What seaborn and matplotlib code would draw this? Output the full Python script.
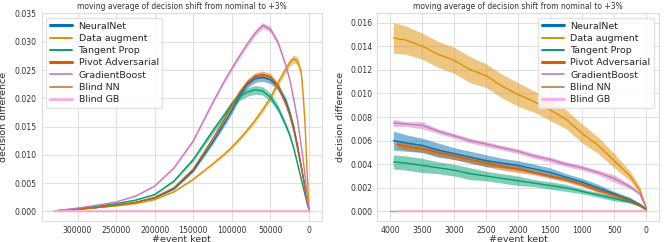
import numpy as np
import pandas as pd
import matplotlib
matplotlib.use("Agg")
import matplotlib.pyplot as plt
import seaborn as sns

# ---------------- data: left panel (full range) ----------------
left_x = [330000, 300000, 275000, 250000, 225000, 200000, 175000, 150000, 125000,
          110000, 100000, 90000, 80000, 70000, 60000, 50000, 40000, 30000, 25000,
          20000, 15000, 10000, 7500, 5000, 2500, 0]
left_nn = [0.0001, 0.0004, 0.0007, 0.0011, 0.0016, 0.0024, 0.0040, 0.0072, 0.0122,
           0.0155, 0.0178, 0.0205, 0.0225, 0.0235, 0.0237, 0.0233, 0.0220, 0.0195, 0.0175,
           0.0150, 0.0117, 0.0080, 0.0061, 0.0042, 0.0022, 0.0003]
left_da = [0.0001, 0.0004, 0.0007, 0.0010, 0.0014, 0.0021, 0.0035, 0.0057, 0.0084,
           0.0101, 0.0114, 0.0128, 0.0144, 0.0161, 0.0180, 0.0201, 0.0228, 0.0252, 0.0263,
           0.0270, 0.0266, 0.0245, 0.0205, 0.0152, 0.0072, 0.0003]
left_tp = [0.0001, 0.0005, 0.0009, 0.0014, 0.0020, 0.0030, 0.0054, 0.0092, 0.0142,
           0.0170, 0.0190, 0.0203, 0.0211, 0.0215, 0.0213, 0.0202, 0.0182, 0.0152, 0.0135,
           0.0113, 0.0085, 0.0057, 0.0043, 0.0029, 0.0015, 0.0003]
left_pa = [0.0001, 0.0004, 0.0007, 0.0011, 0.0016, 0.0025, 0.0042, 0.0075, 0.0128,
           0.0162, 0.0188, 0.0210, 0.0228, 0.0239, 0.0242, 0.0238, 0.0221, 0.0190, 0.0170,
           0.0145, 0.0112, 0.0077, 0.0059, 0.0040, 0.0021, 0.0003]
left_gb = [0.0001, 0.0006, 0.0011, 0.0017, 0.0027, 0.0045, 0.0077, 0.0125, 0.0192,
           0.0230, 0.0253, 0.0275, 0.0296, 0.0315, 0.0329, 0.0322, 0.0298, 0.0258, 0.0233,
           0.0200, 0.0163, 0.0115, 0.0091, 0.0062, 0.0028, 0.0004]
left_blind = [0.0, 0.0]
left_blind_x = [330000, 0]
# relative half-width of the uncertainty band, per series
left_band = [0.03, 0.025, 0.035, 0.025, 0.015]

# ---------------- data: right panel (last 4000 events) ----------------
right_x = [3950, 3750, 3500, 3250, 3000, 2750, 2500, 2250, 2000, 1750, 1500, 1250,
           1000, 750, 500, 250, 100, 0]
right_nn = [0.0060, 0.0058, 0.0056, 0.0052, 0.0049, 0.0046, 0.0043, 0.0041, 0.0039,
            0.0036, 0.0033, 0.0029, 0.0025, 0.0020, 0.0015, 0.0010, 0.0006, 0.0002]
right_nn_err = [0.0008, 0.0007, 0.0006, 0.0006, 0.0005, 0.0005, 0.0005, 0.0004, 0.0004,
                0.0004, 0.0004, 0.0003, 0.0003, 0.0003, 0.0002, 0.0002, 0.0001, 0.0001]
right_da = [0.0147, 0.0145, 0.0140, 0.0133, 0.0128, 0.0120, 0.0115, 0.0106, 0.0099,
            0.0093, 0.0086, 0.0078, 0.0066, 0.0056, 0.0043, 0.0030, 0.0018, 0.0003]
right_da_err = [0.0013, 0.0012, 0.0011, 0.0011, 0.0011, 0.0011, 0.0010, 0.0010, 0.0010,
                0.0009, 0.0009, 0.0008, 0.0008, 0.0007, 0.0006, 0.0004, 0.0003, 0.0001]
right_tp = [0.0042, 0.0041, 0.0039, 0.0037, 0.0035, 0.0032, 0.0030, 0.0028, 0.0026,
            0.0024, 0.0022, 0.0020, 0.0017, 0.0014, 0.0011, 0.0008, 0.0005, 0.0002]
right_tp_err = [0.0006, 0.0006, 0.0006, 0.0005, 0.0005, 0.0005, 0.0004, 0.0004, 0.0004,
                0.0003, 0.0003, 0.0003, 0.0002, 0.0002, 0.0002, 0.0001, 0.0001, 0.0001]
right_pa_x = [3900, 3750, 3500, 3250, 3000, 2750, 2500, 2250, 2000, 1750, 1500, 1250,
              1000, 750, 500, 250, 100, 0]
right_pa = [0.0057, 0.0055, 0.0053, 0.0050, 0.0047, 0.0044, 0.0041, 0.0038, 0.0036,
            0.0033, 0.0030, 0.0027, 0.0023, 0.0018, 0.0014, 0.0009, 0.0005, 0.0002]
right_pa_err = [0.0003, 0.0003, 0.0003, 0.0003, 0.0003, 0.0003, 0.0003, 0.0003, 0.0003,
                0.0002, 0.0002, 0.0002, 0.0002, 0.0002, 0.0002, 0.0001, 0.0001, 0.0001]
right_gb = [0.0075, 0.0074, 0.0073, 0.0068, 0.0064, 0.0060, 0.0057, 0.0054, 0.0051,
            0.0047, 0.0044, 0.0040, 0.0037, 0.0033, 0.0028, 0.0021, 0.0015, 0.0003]
right_gb_err = [0.0003, 0.0002, 0.0003, 0.0002, 0.0002, 0.0002, 0.0002, 0.0002, 0.0002,
                0.0002, 0.0002, 0.0002, 0.0002, 0.0002, 0.0003, 0.0002, 0.0001, 0.0001]
right_bnn_x = [4000, 0]
right_bgb_x = [3900, 0]
right_blind = [0.0, 0.0]

labels = ["NeuralNet", "Data augment", "Tangent Prop", "Pivot Adversarial",
          "GradientBoost", "Blind NN", "Blind GB"]
title = "moving average of decision shift from nominal to +3%"

sns.set_theme(style="whitegrid", palette="colorblind")
plt.rcParams["font.family"] = ["DejaVu Sans"]
pal = sns.color_palette("colorblind")
colors = [pal[0], pal[1], pal[2], pal[3], pal[4], pal[5], pal[6]]

fig = plt.figure(figsize=(6.68, 2.42), dpi=100)
axL = fig.add_axes([0.0624, 0.087, 0.4192, 0.859])
axR = fig.add_axes([0.565, 0.087, 0.4215, 0.859])


def draw(ax, x, y, err, color, label, lw=1.0):
    x = np.asarray(x, float)
    y = np.asarray(y, float)
    if err is not None:
        e = np.asarray(err, float)
        ax.fill_between(x, y - e, y + e, color=color, alpha=0.5, lw=0)
    sns.lineplot(x=x, y=y, ax=ax, color=color, lw=lw, label=label, sort=False)


# left panel
lefts = [left_nn, left_da, left_tp, left_pa, left_gb]
for i, ys in enumerate(lefts):
    err = np.asarray(ys) * left_band[i]
    draw(axL, left_x, ys, err, colors[i], labels[i])
draw(axL, left_blind_x, left_blind, None, colors[5], labels[5])
draw(axL, left_blind_x, left_blind, None, colors[6], labels[6], lw=1.2)

# right panel
draw(axR, right_x, right_nn, right_nn_err, colors[0], labels[0])
draw(axR, right_x, right_da, right_da_err, colors[1], labels[1])
draw(axR, right_x, right_tp, right_tp_err, colors[2], labels[2])
draw(axR, right_pa_x, right_pa, right_pa_err, colors[3], labels[3])
draw(axR, right_x, right_gb, right_gb_err, colors[4], labels[4])
draw(axR, right_bnn_x, right_blind, None, colors[5], labels[5])
draw(axR, right_bgb_x, right_blind, None, colors[6], labels[6], lw=1.2)

axL.set_yticks(np.arange(0, 0.0351, 0.005))
axR.set_yticks(np.arange(0, 0.0161, 0.002))
axL.set_xticks([300000, 250000, 200000, 150000, 100000, 50000, 0])
axR.set_xticks([4000, 3500, 3000, 2500, 2000, 1500, 1000, 500, 0])

thick = [2.2, 1.4, 1.4, 2.2, 1.2, 1.4, 2.2]
for ax, loc, ylx in [(axL, "upper left", -0.12), (axR, "upper right", -0.115)]:
    ax.invert_xaxis()
    ax.yaxis.set_major_formatter(matplotlib.ticker.FormatStrFormatter("%.3f"))
    ax.set_title(title, fontsize=5.5, pad=3, color="#333333")
    ax.set_ylabel("decision difference", fontsize=6.8, color="#333333")
    ax.yaxis.set_label_coords(ylx, 0.5)
    ax.set_xlabel("#event kept", fontsize=6.8, color="#333333")
    ax.xaxis.set_label_coords(0.5, -0.068)
    ax.tick_params(labelsize=5.6, colors="#333333", pad=3.5, length=0)
    ax.grid(color="#e0e0e0", lw=0.8)
    for s in ax.spines.values():
        s.set_color("#dddddd")
        s.set_linewidth(0.8)
    leg = ax.legend(loc=loc, fontsize=6.8, handlelength=2.3, frameon=True,
                    borderpad=0.4, labelspacing=0.35, handletextpad=0.7,
                    framealpha=0.8)
    leg.get_frame().set_edgecolor("#dddddd")
    for h, w in zip(leg.get_lines(), thick):
        h.set_linewidth(w)

fig.savefig("out.png", dpi=100)
